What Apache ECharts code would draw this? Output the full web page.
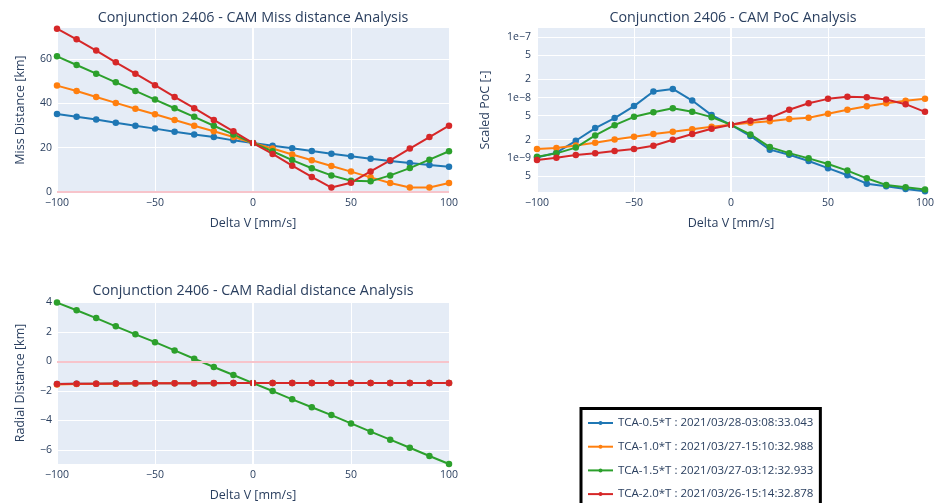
<!DOCTYPE html>
<html>
<head>
<meta charset="utf-8">
<script src="https://cdn.jsdelivr.net/npm/echarts@6/dist/echarts.min.js"></script>
<style>
  html, body { margin: 0; padding: 0; background: #fff; }
  #chart { width: 937px; height: 503px; }
</style>
</head>
<body>
<div id="chart"></div>
<script>
// Manoeuvre delta-V sweep [mm/s]
const deltaV = [-100, -90, -80, -70, -60, -50, -40, -30, -20, -10, 0, 10, 20, 30, 40, 50, 60, 70, 80, 90, 100];

// Legend labels: manoeuvre epochs
const seriesNames = [
  'TCA-0.5*T : 2021/03/28-03:08:33.043',
  'TCA-1.0*T : 2021/03/27-15:10:32.988',
  'TCA-1.5*T : 2021/03/27-03:12:32.933',
  'TCA-2.0*T : 2021/03/26-15:14:32.878'
];

// Miss distance [km]
const missBlue   = [35.2, 34.0, 32.7, 31.2, 29.9, 28.6, 27.2, 25.9, 24.8, 23.3, 22.1, 20.9, 19.7, 18.5, 17.3, 16.1, 15.0, 14.0, 13.1, 12.2, 11.4];
const missOrange = [48.0, 45.6, 42.9, 40.2, 37.6, 35.1, 32.5, 29.9, 27.4, 24.8, 22.1, 19.6, 16.9, 14.3, 11.7, 9.2, 6.6, 4.1, 2.0, 2.0, 4.1];
const missGreen  = [61.2, 57.3, 53.4, 49.5, 45.6, 41.7, 37.8, 33.9, 29.9, 26.0, 22.1, 18.4, 14.4, 10.7, 7.5, 5.1, 4.8, 7.5, 10.8, 14.6, 18.4];
const missRed    = [73.7, 68.9, 63.8, 58.5, 53.4, 48.2, 42.9, 37.8, 32.5, 27.4, 22.1, 17.2, 11.9, 6.8, 2.0, 4.2, 9.3, 14.3, 19.6, 24.8, 29.9];

// Scaled probability of collision [-]
const pocBlue   = [1.01e-9, 1.21e-9, 1.91e-9, 3.1e-9, 4.55e-9, 7.2e-9, 1.26e-8, 1.39e-8, 8.9e-9, 5.1e-9, 3.52e-9, 2.29e-9, 1.36e-9, 1.12e-9, 8.8e-10, 6.7e-10, 5.1e-10, 3.7e-10, 3.35e-10, 3.03e-10, 2.77e-10];
const pocOrange = [1.39e-9, 1.45e-9, 1.6e-9, 1.77e-9, 2.01e-9, 2.23e-9, 2.47e-9, 2.7e-9, 2.98e-9, 3.26e-9, 3.52e-9, 3.8e-9, 4.05e-9, 4.38e-9, 4.6e-9, 5.36e-9, 6.25e-9, 7.18e-9, 8.05e-9, 8.8e-9, 9.5e-9];
const pocGreen  = [1.04e-9, 1.18e-9, 1.47e-9, 2.34e-9, 3.47e-9, 4.78e-9, 5.7e-9, 6.65e-9, 5.78e-9, 4.72e-9, 3.52e-9, 2.44e-9, 1.5e-9, 1.19e-9, 9.75e-10, 7.85e-10, 6.1e-10, 4.54e-10, 3.52e-10, 3.22e-10, 2.95e-10];
const pocRed    = [9.15e-10, 1.0e-9, 1.11e-9, 1.19e-9, 1.29e-9, 1.39e-9, 1.58e-9, 1.99e-9, 2.47e-9, 3.03e-9, 3.52e-9, 4.1e-9, 4.6e-9, 6.25e-9, 8.05e-9, 9.5e-9, 1.03e-8, 1.01e-8, 9.3e-9, 7.75e-9, 5.78e-9];

// Radial distance [km]
const radialBlue   = [-1.53, -1.52, -1.51, -1.50, -1.50, -1.49, -1.49, -1.48, -1.48, -1.47, -1.47, -1.47, -1.47, -1.47, -1.47, -1.47, -1.47, -1.47, -1.47, -1.47, -1.47];
const radialOrange = [-1.56, -1.54, -1.52, -1.51, -1.50, -1.49, -1.49, -1.48, -1.48, -1.47, -1.47, -1.47, -1.47, -1.47, -1.47, -1.47, -1.47, -1.47, -1.47, -1.47, -1.47];
const radialGreen  = [3.98, 3.46, 2.93, 2.37, 1.83, 1.30, 0.74, 0.18, -0.38, -0.92, -1.47, -2.01, -2.57, -3.11, -3.64, -4.2, -4.76, -5.3, -5.85, -6.41, -6.95];
const radialRed    = [-1.53, -1.52, -1.51, -1.50, -1.49, -1.49, -1.48, -1.48, -1.47, -1.47, -1.47, -1.47, -1.47, -1.47, -1.47, -1.47, -1.47, -1.47, -1.47, -1.47, -1.47];

// Tick values
const missTicks = [0, 20, 40, 60];
const pocTicks = [5e-10, 1e-9, 2e-9, 5e-9, 1e-8, 2e-8, 5e-8, 1e-7];
const radialTicks = [-6, -4, -2, 0, 2, 4];

const colors = ['#1f77b4', '#ff7f0e', '#2ca02c', '#d62728'];
const FONT = '"Open Sans", "DejaVu Sans", sans-serif';
const TXT = '#2a3f5f';
const PLOT_BG = '#e5ecf6';

const minus = v => String(v).replace('-', '\u2212');

function pocLabel(v) {
  const e = Math.floor(Math.log10(v) + 1e-9);
  const m = Math.round(v / Math.pow(10, e));
  return m === 1 ? '1e' + minus(e) : String(m);
}

const chart = echarts.init(document.getElementById('chart'), null, { renderer: 'canvas' });

const grids = [
  { left: 57, top: 28, width: 392, height: 164 },
  { left: 537, top: 28, width: 392, height: 164 },
  { left: 57, top: 302, width: 392, height: 163 }
];

const nameStyle = { fontFamily: FONT, fontSize: 12.5, color: TXT };
const tickStyle = { fontFamily: FONT, fontSize: 10.5, color: TXT };

function xAxisFor(gridIndex) {
  return {
    type: 'value', gridIndex, min: -100, max: 100, interval: 50,
    name: 'Delta V [mm/s]', nameLocation: 'middle', nameGap: 25,
    nameTextStyle: nameStyle,
    axisLine: { show: false }, axisTick: { show: false },
    axisLabel: Object.assign({ margin: 6, formatter: minus }, tickStyle),
    splitLine: { lineStyle: { color: '#ffffff', width: 1 } }
  };
}

const yAxes = [
  {
    type: 'value', gridIndex: 0, min: 0, max: 74,
    name: 'Miss Distance [km]', nameLocation: 'middle', nameGap: 30,
    nameTextStyle: nameStyle,
    axisLine: { show: false },
    axisTick: { show: false, customValues: missTicks },
    axisLabel: Object.assign({ margin: 5, customValues: missTicks, formatter: minus }, tickStyle),
    splitLine: { lineStyle: { color: '#ffffff', width: 1 } }
  },
  {
    type: 'log', logBase: 10, gridIndex: 1, min: 2.69e-10, max: 1.43e-7,
    name: 'Scaled PoC [-]', nameLocation: 'middle', nameGap: 45,
    nameTextStyle: nameStyle,
    axisLine: { show: false },
    axisTick: { show: false, customValues: pocTicks },
    axisLabel: Object.assign({ margin: 6, customValues: pocTicks, formatter: pocLabel }, tickStyle),
    splitLine: { lineStyle: { color: '#ffffff', width: 1 } }
  },
  {
    type: 'value', gridIndex: 2, min: -6.95, max: 4.02,
    name: 'Radial Distance [km]', nameLocation: 'middle', nameGap: 30,
    nameTextStyle: nameStyle,
    axisLine: { show: false },
    axisTick: { show: false, customValues: radialTicks },
    axisLabel: Object.assign({ margin: 5, customValues: radialTicks, formatter: minus }, tickStyle),
    splitLine: { lineStyle: { color: '#ffffff', width: 1 } }
  }
];

function pairs(values) {
  return deltaV.map((x, i) => [x, values[i]]);
}

function lineSeries(name, values, idx, gridIdx) {
  return {
    name, type: 'line', xAxisIndex: gridIdx, yAxisIndex: gridIdx,
    data: pairs(values), z: 3,
    symbol: 'circle', symbolSize: 6.5, showSymbol: true,
    itemStyle: { color: colors[idx] },
    lineStyle: { color: colors[idx], width: 2 },
    emphasis: { disabled: true }
  };
}

// Reference lines: white zero line on Delta V, pink zero line on distances
function refSeries(gridIdx, withPink) {
  const lines = [{ xAxis: 0, lineStyle: { color: '#ffffff', width: 2, type: 'solid' } }];
  if (withPink) lines.push({ yAxis: 0, lineStyle: { color: '#f7c4cb', width: 2, type: 'solid' } });
  return {
    type: 'line', xAxisIndex: gridIdx, yAxisIndex: gridIdx, data: [], z: 1,
    silent: true,
    markLine: { silent: true, symbol: 'none', label: { show: false }, animation: false, data: lines }
  };
}

const missSets = [missBlue, missOrange, missGreen, missRed];
const pocSets = [pocBlue, pocOrange, pocGreen, pocRed];
const radialSets = [radialBlue, radialOrange, radialGreen, radialRed];

const series = [refSeries(0, true), refSeries(1, false), refSeries(2, true)];
[missSets, pocSets, radialSets].forEach((sets, g) => {
  sets.forEach((vals, i) => series.push(lineSeries(seriesNames[i], vals, i, g)));
});

const titleStyle = { fontFamily: FONT, fontSize: 14.3, fontWeight: 'normal', color: TXT };

chart.setOption({
  animation: false,
  backgroundColor: '#ffffff',
  title: [
    { text: 'Conjunction 2406 - CAM Miss distance Analysis', left: 253, top: 11, textAlign: 'center', textStyle: titleStyle, padding: 0 },
    { text: 'Conjunction 2406 - CAM PoC Analysis', left: 733, top: 11, textAlign: 'center', textStyle: titleStyle, padding: 0 },
    { text: 'Conjunction 2406 - CAM Radial distance Analysis', left: 253, top: 284, textAlign: 'center', textStyle: titleStyle, padding: 0 }
  ],
  legend: {
    data: seriesNames,
    orient: 'vertical',
    left: 581, top: 408.5,
    height: 200,
    padding: [7.5, 7, 12, 6],
    itemGap: 9.7,
    itemWidth: 25, itemHeight: 5,
    lineStyle: { width: 2 },
    borderColor: '#000000', borderWidth: 3,
    backgroundColor: '#ffffff',
    textStyle: { fontFamily: FONT, fontSize: 11.5, lineHeight: 14, color: TXT },
    selectedMode: false
  },
  grid: grids.map(g => Object.assign({ show: true, backgroundColor: PLOT_BG, borderWidth: 0, containLabel: false }, g)),
  xAxis: [xAxisFor(0), xAxisFor(1), xAxisFor(2)],
  yAxis: yAxes,
  series
});
</script>
</body>
</html>
